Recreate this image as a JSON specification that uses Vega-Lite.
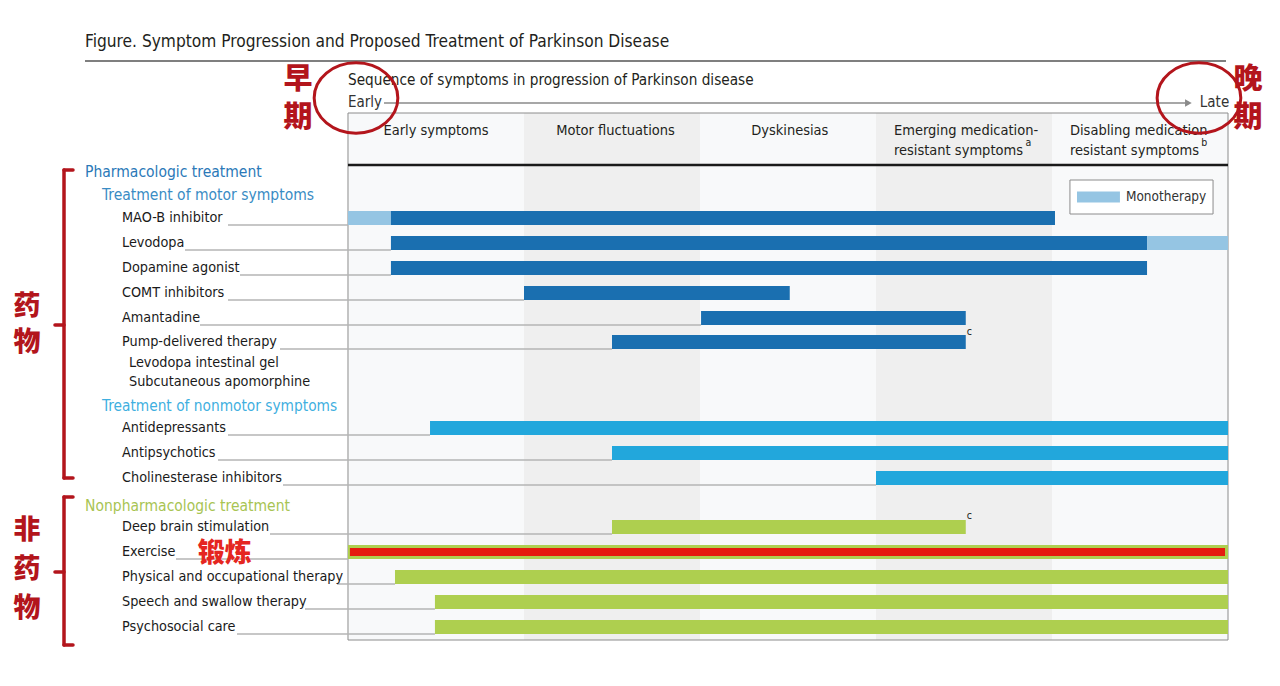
{
  "$schema": "https://vega.github.io/schema/vega-lite/v6.json",
  "width": 1280,
  "height": 686,
  "padding": 0,
  "autosize": {"type": "none"},
  "background": "white",
  "view": {"stroke": null},
  "config": {
    "axis": {"disable": true},
    "legend": {"disable": true},
    "font": "DejaVu Sans Condensed, sans-serif",
    "text": {"font": "DejaVu Sans Condensed, sans-serif"}
  },
  "datasets": {
    "stages": [
      {"stage": "Early symptoms", "start": 0, "end": 1, "band": "light band"},
      {"stage": "Motor fluctuations", "start": 1, "end": 2, "band": "gray band"},
      {"stage": "Dyskinesias", "start": 2, "end": 3, "band": "light band"},
      {"stage": "Emerging medication-resistant symptoms", "start": 3, "end": 4, "band": "gray band"},
      {"stage": "Disabling medication resistant symptoms", "start": 4, "end": 5, "band": "light band"}
    ],
    "bars": [
      {"treatment": "MAO-B inhibitor", "row": 1, "start": 0, "end": 0.244, "kind": "Monotherapy"},
      {"treatment": "MAO-B inhibitor", "row": 1, "start": 0.244, "end": 4.017, "kind": "Motor"},
      {"treatment": "Levodopa", "row": 2, "start": 0.244, "end": 4.54, "kind": "Motor"},
      {"treatment": "Levodopa", "row": 2, "start": 4.54, "end": 5, "kind": "Monotherapy"},
      {"treatment": "Dopamine agonist", "row": 3, "start": 0.244, "end": 4.54, "kind": "Motor"},
      {"treatment": "COMT inhibitors", "row": 4, "start": 1.0, "end": 2.51, "kind": "Motor"},
      {"treatment": "Amantadine", "row": 5, "start": 2.006, "end": 3.51, "kind": "Motor"},
      {"treatment": "Pump-delivered therapy", "row": 5.96, "start": 1.5, "end": 3.51, "kind": "Motor"},
      {"treatment": "Antidepressants", "row": 9.4, "start": 0.466, "end": 5, "kind": "Nonmotor"},
      {"treatment": "Antipsychotics", "row": 10.4, "start": 1.5, "end": 5, "kind": "Nonmotor"},
      {"treatment": "Cholinesterase inhibitors", "row": 11.4, "start": 3.0, "end": 5, "kind": "Nonmotor"},
      {"treatment": "Deep brain stimulation", "row": 13.36, "start": 1.5, "end": 3.51, "kind": "Nonpharmacologic"},
      {"treatment": "Exercise", "row": 14.36, "start": 0, "end": 5, "kind": "Nonpharmacologic"},
      {"treatment": "Physical and occupational therapy", "row": 15.36, "start": 0.267, "end": 5, "kind": "Nonpharmacologic"},
      {"treatment": "Speech and swallow therapy", "row": 16.36, "start": 0.494, "end": 5, "kind": "Nonpharmacologic"},
      {"treatment": "Psychosocial care", "row": 17.36, "start": 0.494, "end": 5, "kind": "Nonpharmacologic"}
    ],
    "highlight": [
      {"treatment": "Exercise", "row": 14.36, "start": 0.011, "end": 4.983, "kind": "Highlight"}
    ],
    "leaders": [
      {"treatment": "MAO-B inhibitor", "row": 1, "from": -0.6818, "to": 0},
      {"treatment": "Levodopa", "row": 2, "from": -0.9261, "to": 0.244},
      {"treatment": "Dopamine agonist", "row": 3, "from": -0.6136, "to": 0.244},
      {"treatment": "COMT inhibitors", "row": 4, "from": -0.6818, "to": 1.0},
      {"treatment": "Amantadine", "row": 5, "from": -0.8409, "to": 2.006},
      {"treatment": "Pump-delivered therapy", "row": 5.96, "from": -0.3864, "to": 1.5},
      {"treatment": "Antidepressants", "row": 9.4, "from": -0.6818, "to": 0.466},
      {"treatment": "Antipsychotics", "row": 10.4, "from": -0.7386, "to": 1.5},
      {"treatment": "Cholinesterase inhibitors", "row": 11.4, "from": -0.3693, "to": 3.0},
      {"treatment": "Deep brain stimulation", "row": 13.36, "from": -0.4432, "to": 1.5},
      {"treatment": "Exercise", "row": 14.36, "from": -0.9773, "to": 0},
      {"treatment": "Physical and occupational therapy", "row": 15.36, "from": -0.0625, "to": 0.267},
      {"treatment": "Speech and swallow therapy", "row": 16.36, "from": -0.2443, "to": 0.494},
      {"treatment": "Psychosocial care", "row": 17.36, "from": -0.6307, "to": 0.494}
    ],
    "texts": [
      {"text": "Figure. Symptom Progression and Proposed Treatment of Parkinson Disease", "x": -1.4943, "y": -6.04, "role": "title"},
      {"text": "Sequence of symptoms in progression of Parkinson disease", "x": 0, "y": -4.52, "role": "sequence"},
      {"text": "Early", "x": 0, "y": -3.64, "role": "endpoint"},
      {"text": "Late", "x": 4.84, "y": -3.64, "role": "endpoint"},
      {"text": "Early symptoms", "x": 0.5, "y": -2.48, "role": "stage"},
      {"text": "Motor fluctuations", "x": 1.52, "y": -2.48, "role": "stage"},
      {"text": "Dyskinesias", "x": 2.51, "y": -2.48, "role": "stage"},
      {"text": "Emerging medication-", "x": 3.102, "y": -2.48, "role": "stage-left"},
      {"text": "resistant symptoms", "x": 3.102, "y": -1.68, "role": "stage-left"},
      {"text": "Disabling medication", "x": 4.102, "y": -2.48, "role": "stage-left"},
      {"text": "resistant symptoms", "x": 4.102, "y": -1.68, "role": "stage-left"},
      {"text": "a", "x": 3.85, "y": -2.0, "role": "sup"},
      {"text": "b", "x": 4.848, "y": -2.0, "role": "sup"},
      {"text": "c", "x": 3.515, "y": 5.56, "role": "sup"},
      {"text": "c", "x": 3.515, "y": 12.92, "role": "sup"},
      {"text": "Monotherapy", "x": 4.42, "y": 0.16, "role": "legend"},
      {"text": "Pharmacologic treatment", "x": -1.4943, "y": -0.84, "role": "pharm"},
      {"text": "Treatment of motor symptoms", "x": -1.3977, "y": 0.08, "role": "motor"},
      {"text": "MAO-B inhibitor", "x": -1.2841, "y": 1, "role": "item"},
      {"text": "Levodopa", "x": -1.2841, "y": 2, "role": "item"},
      {"text": "Dopamine agonist", "x": -1.2841, "y": 3, "role": "item"},
      {"text": "COMT inhibitors", "x": -1.2841, "y": 4, "role": "item"},
      {"text": "Amantadine", "x": -1.2841, "y": 5, "role": "item"},
      {"text": "Pump-delivered therapy", "x": -1.2841, "y": 5.96, "role": "item"},
      {"text": "Levodopa intestinal gel", "x": -1.2443, "y": 6.8, "role": "item"},
      {"text": "Subcutaneous apomorphine", "x": -1.2443, "y": 7.56, "role": "item"},
      {"text": "Treatment of nonmotor symptoms", "x": -1.3977, "y": 8.52, "role": "nonmotor"},
      {"text": "Antidepressants", "x": -1.2841, "y": 9.4, "role": "item"},
      {"text": "Antipsychotics", "x": -1.2841, "y": 10.4, "role": "item"},
      {"text": "Cholinesterase inhibitors", "x": -1.2841, "y": 11.4, "role": "item"},
      {"text": "Nonpharmacologic treatment", "x": -1.4943, "y": 12.52, "role": "nonpharm"},
      {"text": "Deep brain stimulation", "x": -1.2841, "y": 13.36, "role": "item"},
      {"text": "Exercise", "x": -1.2841, "y": 14.36, "role": "item"},
      {"text": "Physical and occupational therapy", "x": -1.2841, "y": 15.36, "role": "item"},
      {"text": "Speech and swallow therapy", "x": -1.2841, "y": 16.36, "role": "item"},
      {"text": "Psychosocial care", "x": -1.2841, "y": 17.36, "role": "item"},
      {"text": "早", "x": -0.2841, "y": -4.52, "role": "cjk"},
      {"text": "期", "x": -0.2841, "y": -3.0, "role": "cjk"},
      {"text": "晚", "x": 5.1136, "y": -4.52, "role": "cjk"},
      {"text": "期", "x": 5.1136, "y": -3.0, "role": "cjk"},
      {"text": "药", "x": -1.8239, "y": 4.56, "role": "cjk-side"},
      {"text": "物", "x": -1.8239, "y": 6.0, "role": "cjk-side"},
      {"text": "非", "x": -1.8239, "y": 13.5, "role": "cjk-side"},
      {"text": "药", "x": -1.8239, "y": 15.08, "role": "cjk-side"},
      {"text": "物", "x": -1.8239, "y": 16.64, "role": "cjk-side"},
      {"text": "锻炼", "x": -0.7, "y": 14.42, "role": "cjk-bright"}
    ],
    "bracketH": [
      {"x": -1.6136, "x2": -1.5625, "y": -0.92},
      {"x": -1.6136, "x2": -1.5625, "y": 11.4},
      {"x": -1.6648, "x2": -1.6136, "y": 5.28},
      {"x": -1.6136, "x2": -1.5625, "y": 12.16},
      {"x": -1.6136, "x2": -1.5625, "y": 18.08},
      {"x": -1.6648, "x2": -1.6136, "y": 15.16}
    ],
    "bracketV": [
      {"x": -1.6136, "y": -0.92, "y2": 11.4},
      {"x": -1.6136, "y": 12.16, "y2": 18.08}
    ],
    "circles": [
      {"label": "Early", "x": 0.0455, "y": -3.8},
      {"label": "Late", "x": 4.835, "y": -3.8}
    ]
  },
  "layer": [
    {
      "data": {"name": "stages"},
      "mark": {"type": "rect"},
      "encoding": {
        "x": {"field": "start", "type": "quantitative", "scale": {"domain": [-1.97727, 5.29545], "nice": false, "zero": false, "padding": 0}},
        "x2": {"field": "end"},
        "y": {"datum": -3.2, "type": "quantitative", "scale": {"domain": [-7.72, 19.72], "reverse": true, "nice": false, "zero": false, "padding": 0}},
        "y2": {"datum": 17.88},
        "color": {"field": "band", "type": "nominal", "scale": {
          "domain": ["light band", "gray band", "Motor", "Monotherapy", "Nonmotor", "Nonpharmacologic", "Highlight"],
          "range": ["#f8f9fa", "#efefef", "#1a6fb0", "#95c5e3", "#22a7dc", "#aecf4f", "#e51a0e"]}}
      }
    },
    {
      "data": {"values": [{"panel": "frame"}]},
      "mark": {"type": "rect", "fill": null, "fillOpacity": 0, "stroke": "#8c8c8c", "strokeWidth": 1},
      "encoding": {
        "x": {"datum": 0, "type": "quantitative"},
        "x2": {"datum": 5},
        "y": {"datum": -3.2, "type": "quantitative"},
        "y2": {"datum": 17.88}
      }
    },
    {
      "data": {"values": [{"line": "header"}]},
      "mark": {"type": "rule", "color": "#1a1a1a", "strokeWidth": 2.5},
      "encoding": {
        "x": {"datum": 0, "type": "quantitative"},
        "x2": {"datum": 5},
        "y": {"datum": -1.12, "type": "quantitative"}
      }
    },
    {
      "data": {"values": [{"line": "title"}]},
      "mark": {"type": "rule", "color": "#555555", "strokeWidth": 1.5},
      "encoding": {
        "x": {"datum": -1.4943, "type": "quantitative"},
        "x2": {"datum": 4.9886},
        "y": {"datum": -5.28, "type": "quantitative"}
      }
    },
    {
      "data": {"values": [{"line": "arrow"}]},
      "mark": {"type": "rule", "color": "#8a8a8a", "strokeWidth": 1.5},
      "encoding": {
        "x": {"datum": 0.2045, "type": "quantitative"},
        "x2": {"datum": 4.76},
        "y": {"datum": -3.6, "type": "quantitative"}
      }
    },
    {
      "data": {"values": [{"line": "arrowhead"}]},
      "mark": {"type": "point", "shape": "triangle-right", "filled": true, "color": "#8a8a8a", "size": 60, "opacity": 1},
      "encoding": {
        "x": {"datum": 4.775, "type": "quantitative"},
        "y": {"datum": -3.6, "type": "quantitative"}
      }
    },
    {
      "data": {"values": [{"legend": "box"}]},
      "mark": {"type": "rect", "fill": "white", "stroke": "#8c8c8c", "strokeWidth": 1},
      "encoding": {
        "x": {"datum": 4.102, "type": "quantitative"},
        "x2": {"datum": 4.915},
        "y": {"datum": -0.52, "type": "quantitative"},
        "y2": {"datum": 0.84}
      }
    },
    {
      "data": {"values": [{"kind": "Monotherapy"}]},
      "mark": {"type": "rect"},
      "encoding": {
        "x": {"datum": 4.142, "type": "quantitative"},
        "x2": {"datum": 4.386},
        "y": {"datum": -0.06, "type": "quantitative"},
        "y2": {"datum": 0.38},
        "color": {"field": "kind", "type": "nominal"}
      }
    },
    {
      "data": {"name": "leaders"},
      "mark": {"type": "rule", "color": "#b4b4b4", "strokeWidth": 1.5, "yOffset": 7},
      "encoding": {
        "x": {"field": "from", "type": "quantitative"},
        "x2": {"field": "to"},
        "y": {"field": "row", "type": "quantitative"}
      }
    },
    {
      "data": {"name": "bars"},
      "mark": {"type": "bar", "orient": "horizontal", "size": 14},
      "encoding": {
        "x": {"field": "start", "type": "quantitative"},
        "x2": {"field": "end"},
        "y": {"field": "row", "type": "quantitative"},
        "color": {"field": "kind", "type": "nominal"}
      }
    },
    {
      "data": {"name": "highlight"},
      "mark": {"type": "bar", "orient": "horizontal", "size": 8},
      "encoding": {
        "x": {"field": "start", "type": "quantitative"},
        "x2": {"field": "end"},
        "y": {"field": "row", "type": "quantitative"},
        "color": {"field": "kind", "type": "nominal"}
      }
    },
    {
      "data": {"name": "texts"},
      "transform": [{"filter": "datum.role === 'title'"}],
      "mark": {"type": "text", "align": "left", "baseline": "middle", "fontSize": 17.2, "color": "#231f20"},
      "encoding": {"x": {"field": "x", "type": "quantitative"}, "y": {"field": "y", "type": "quantitative"}, "text": {"field": "text"}}
    },
    {
      "data": {"name": "texts"},
      "transform": [{"filter": "datum.role === 'sequence'"}],
      "mark": {"type": "text", "align": "left", "baseline": "middle", "fontSize": 15.2, "color": "#231f20"},
      "encoding": {"x": {"field": "x", "type": "quantitative"}, "y": {"field": "y", "type": "quantitative"}, "text": {"field": "text"}}
    },
    {
      "data": {"name": "texts"},
      "transform": [{"filter": "datum.role === 'endpoint'"}],
      "mark": {"type": "text", "align": "left", "baseline": "middle", "fontSize": 15, "color": "#333333"},
      "encoding": {"x": {"field": "x", "type": "quantitative"}, "y": {"field": "y", "type": "quantitative"}, "text": {"field": "text"}}
    },
    {
      "data": {"name": "texts"},
      "transform": [{"filter": "datum.role === 'stage'"}],
      "mark": {"type": "text", "align": "center", "baseline": "middle", "fontSize": 14.5, "color": "#231f20"},
      "encoding": {"x": {"field": "x", "type": "quantitative"}, "y": {"field": "y", "type": "quantitative"}, "text": {"field": "text"}}
    },
    {
      "data": {"name": "texts"},
      "transform": [{"filter": "datum.role === 'stage-left'"}],
      "mark": {"type": "text", "align": "left", "baseline": "middle", "fontSize": 14.5, "color": "#231f20"},
      "encoding": {"x": {"field": "x", "type": "quantitative"}, "y": {"field": "y", "type": "quantitative"}, "text": {"field": "text"}}
    },
    {
      "data": {"name": "texts"},
      "transform": [{"filter": "datum.role === 'sup'"}],
      "mark": {"type": "text", "align": "left", "baseline": "middle", "fontSize": 10.5, "color": "#231f20"},
      "encoding": {"x": {"field": "x", "type": "quantitative"}, "y": {"field": "y", "type": "quantitative"}, "text": {"field": "text"}}
    },
    {
      "data": {"name": "texts"},
      "transform": [{"filter": "datum.role === 'legend'"}],
      "mark": {"type": "text", "align": "left", "baseline": "middle", "fontSize": 13.5, "color": "#333333"},
      "encoding": {"x": {"field": "x", "type": "quantitative"}, "y": {"field": "y", "type": "quantitative"}, "text": {"field": "text"}}
    },
    {
      "data": {"name": "texts"},
      "transform": [{"filter": "datum.role === 'pharm'"}],
      "mark": {"type": "text", "align": "left", "baseline": "middle", "fontSize": 15.5, "color": "#2b79b8"},
      "encoding": {"x": {"field": "x", "type": "quantitative"}, "y": {"field": "y", "type": "quantitative"}, "text": {"field": "text"}}
    },
    {
      "data": {"name": "texts"},
      "transform": [{"filter": "datum.role === 'motor'"}],
      "mark": {"type": "text", "align": "left", "baseline": "middle", "fontSize": 15.5, "color": "#3a8cc4"},
      "encoding": {"x": {"field": "x", "type": "quantitative"}, "y": {"field": "y", "type": "quantitative"}, "text": {"field": "text"}}
    },
    {
      "data": {"name": "texts"},
      "transform": [{"filter": "datum.role === 'nonmotor'"}],
      "mark": {"type": "text", "align": "left", "baseline": "middle", "fontSize": 15.3, "color": "#3fafe0"},
      "encoding": {"x": {"field": "x", "type": "quantitative"}, "y": {"field": "y", "type": "quantitative"}, "text": {"field": "text"}}
    },
    {
      "data": {"name": "texts"},
      "transform": [{"filter": "datum.role === 'nonpharm'"}],
      "mark": {"type": "text", "align": "left", "baseline": "middle", "fontSize": 15.5, "color": "#a8c453"},
      "encoding": {"x": {"field": "x", "type": "quantitative"}, "y": {"field": "y", "type": "quantitative"}, "text": {"field": "text"}}
    },
    {
      "data": {"name": "texts"},
      "transform": [{"filter": "datum.role === 'item'"}],
      "mark": {"type": "text", "align": "left", "baseline": "middle", "fontSize": 14.3, "color": "#1a1a1a"},
      "encoding": {"x": {"field": "x", "type": "quantitative"}, "y": {"field": "y", "type": "quantitative"}, "text": {"field": "text"}}
    },
    {
      "data": {"name": "texts"},
      "transform": [{"filter": "datum.role === 'cjk'"}],
      "mark": {"type": "text", "align": "center", "baseline": "middle", "fontSize": 29, "fontWeight": 900, "font": "Noto Sans CJK SC", "color": "#b3151c"},
      "encoding": {"x": {"field": "x", "type": "quantitative"}, "y": {"field": "y", "type": "quantitative"}, "text": {"field": "text"}}
    },
    {
      "data": {"name": "texts"},
      "transform": [{"filter": "datum.role === 'cjk-side'"}],
      "mark": {"type": "text", "align": "center", "baseline": "middle", "fontSize": 27, "fontWeight": 900, "font": "Noto Sans CJK SC", "color": "#b3151c"},
      "encoding": {"x": {"field": "x", "type": "quantitative"}, "y": {"field": "y", "type": "quantitative"}, "text": {"field": "text"}}
    },
    {
      "data": {"name": "texts"},
      "transform": [{"filter": "datum.role === 'cjk-bright'"}],
      "mark": {"type": "text", "align": "center", "baseline": "middle", "fontSize": 27, "fontWeight": 900, "font": "Noto Sans CJK SC", "color": "#e52620"},
      "encoding": {"x": {"field": "x", "type": "quantitative"}, "y": {"field": "y", "type": "quantitative"}, "text": {"field": "text"}}
    },
    {
      "data": {"name": "bracketV"},
      "mark": {"type": "rule", "color": "#b3151c", "strokeWidth": 3.5, "strokeCap": "round"},
      "encoding": {
        "x": {"field": "x", "type": "quantitative"},
        "y": {"field": "y", "type": "quantitative"},
        "y2": {"field": "y2"}
      }
    },
    {
      "data": {"name": "bracketH"},
      "mark": {"type": "rule", "color": "#b3151c", "strokeWidth": 3.5, "strokeCap": "round"},
      "encoding": {
        "x": {"field": "x", "type": "quantitative"},
        "x2": {"field": "x2"},
        "y": {"field": "y", "type": "quantitative"}
      }
    },
    {
      "data": {"name": "circles"},
      "mark": {"type": "point", "shape": "M-1,0A1,0.84,0,0,0,1,0A1,0.84,0,0,0,-1,0Z", "filled": false, "stroke": "#b3151c", "strokeWidth": 3, "size": 7000, "opacity": 1},
      "encoding": {
        "x": {"field": "x", "type": "quantitative"},
        "y": {"field": "y", "type": "quantitative"}
      }
    }
  ]
}
